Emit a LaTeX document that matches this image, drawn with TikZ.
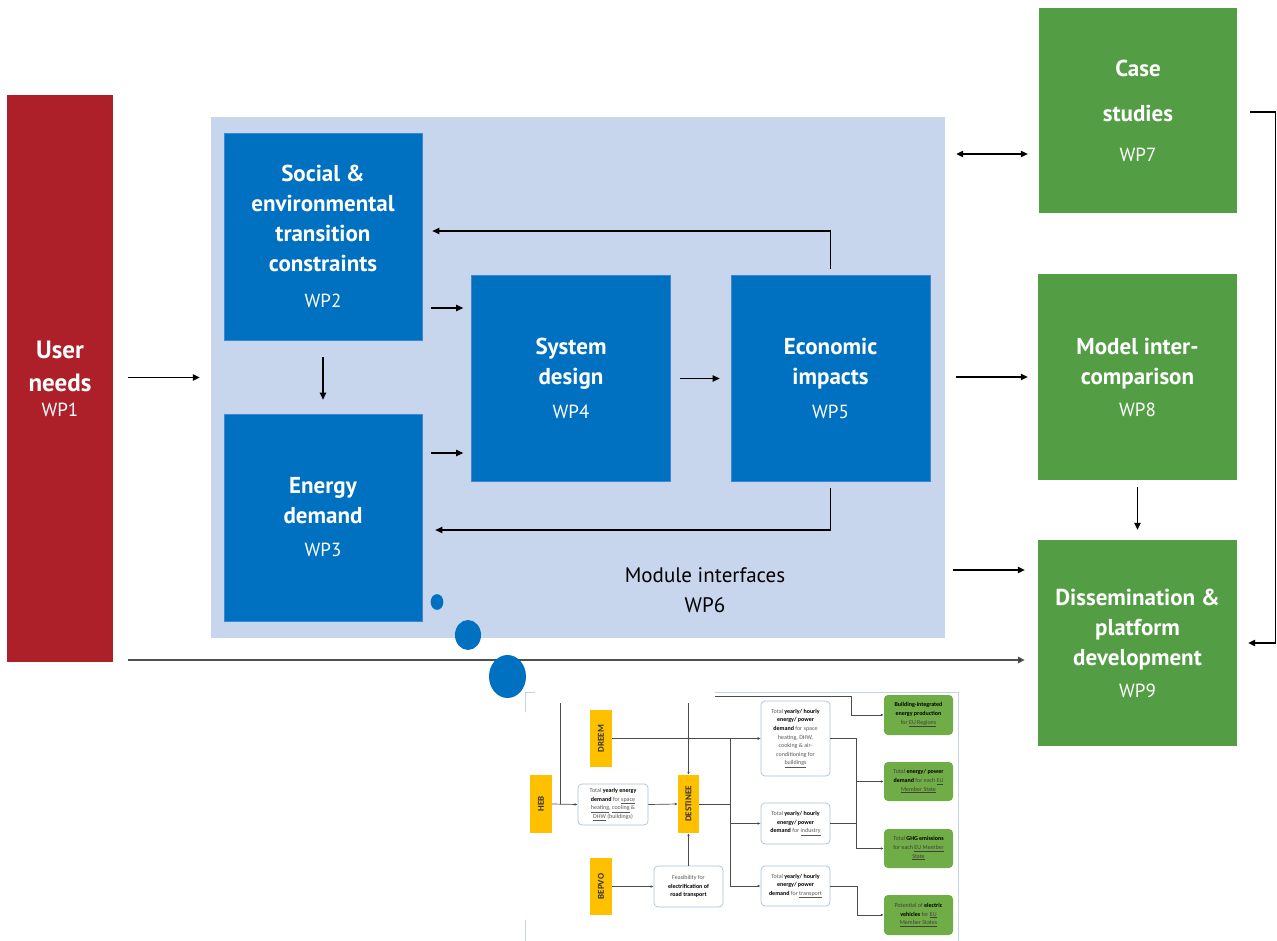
\documentclass[tikz,border=0pt]{standalone}
\usepackage{fontspec}
\setmainfont{PT Sans}
\newfontfamily\calib{Carlito}
\usepackage{graphicx}
\usetikzlibrary{arrows.meta,shapes.geometric,calc}
\definecolor{wpred}{HTML}{AD2029}
\definecolor{wpblue}{HTML}{0070C0}
\definecolor{wpedge}{HTML}{3F86D4}
\definecolor{bgblue}{HTML}{C7D5ED}
\definecolor{wpgreen}{HTML}{539D45}
\definecolor{iyellow}{HTML}{FFC000}
\definecolor{igreen}{HTML}{70AD47}
\definecolor{iedge}{HTML}{A8C0E0}
\definecolor{linegray}{HTML}{505050}
\newcommand\wptitle{\fontsize{23}{30}\selectfont\bfseries}
\newcommand\wpnum{\mdseries\fontsize{19}{22}\selectfont}
\newcommand\bk[1]{\textbf{\color{black}#1}}
\begin{document}
\begin{tikzpicture}[x=1pt,y=-1pt,
  arr/.style={-{Triangle[length=7pt,width=6.5pt]},line width=1.1pt,draw=black},
  wpbox/.style={fill=wpblue,draw=wpedge,line width=0.8pt,text=white,inner sep=0pt,
    align=center,font=\wptitle,minimum width=198pt,minimum height=206pt},
  grbox/.style={fill=wpgreen,text=white,inner sep=0pt,align=center,font=\wptitle,
    minimum width=198pt,minimum height=206pt},
  dot/.style={ellipse,fill=wpblue,inner sep=0pt},
  ybox/.style={fill=iyellow,inner sep=0pt,minimum width=22pt,minimum height=58pt,
    font=\calib\bfseries\fontsize{9}{10}\selectfont,text=black!80},
  wbox/.style={draw=iedge,line width=0.7pt,fill=white,rounded corners=4pt,inner sep=0pt,
    minimum width=69pt,minimum height=41pt,align=center,
    font=\calib\fontsize{6}{8.6}\selectfont,text=black!65},
  gbox/.style={fill=igreen,rounded corners=4pt,inner sep=0pt,
    minimum width=69pt,minimum height=40pt,align=center,
    font=\calib\fontsize{6}{8.6}\selectfont,text=black!75},
  iarr/.style={-{Latex[length=3pt,width=2.6pt]},line width=0.7pt,draw=black!70},
  iline/.style={line width=0.7pt,draw=black!70},
  iborder/.style={line width=0.8pt,draw=iedge!70}]
\useasboundingbox (0,0) rectangle (1277,941);

% background and main blocks
\node[fill=bgblue,inner sep=0pt,minimum width=734pt,minimum height=521pt] (bg) at (578,377.5) {};
\node[fill=wpred,text=white,inner sep=0pt,minimum width=106pt,minimum height=567pt,align=center,
  font=\fontsize{25}{33}\selectfont\bfseries] (un) at (60,378.5) {User\\needs\\[-8pt]{\wpnum WP1}};
\node[wpbox,minimum height=207pt] (wp2) at (323,236.5) {Social \&\\environmental\\transition\\constraints\\[6pt]{\wpnum WP2}};
\node[wpbox,minimum height=207pt] (wp3) at (323,517.5) {Energy\\demand\\[3pt]{\wpnum WP3}};
\node[wpbox,minimum width=199pt] (wp4) at (571,378.5) {System\\design\\[4pt]{\wpnum WP4}};
\node[wpbox,minimum width=199pt] (wp5) at (830.5,378.5) {Economic\\impacts\\[4pt]{\wpnum WP5}};
\node[align=center,inner sep=0pt,font=\fontsize{21}{30}\selectfont] (mi) at (705,590) {Module interfaces\\WP6};
\node[grbox,minimum height=205pt] (wp7) at (1138,110.5) {Case\\[15pt]studies\\[10pt]{\wpnum WP7}};
\node[grbox,minimum width=199pt] (wp8) at (1137.5,377) {Model inter-\\comparison\\[2pt]{\wpnum WP8}};
\node[grbox,minimum width=199pt] (wp9) at (1137.5,643) {Dissemination \&\\platform\\development\\[2pt]{\wpnum WP9}};

% main connectors
\draw[arr] ([shift={(15pt,1pt)}]un.east) -- ([xshift=-11pt]bg.west);
\draw[arr] ([yshift=-17pt]wp2.south) -- ([yshift=14pt]wp3.north);
\draw[arr] ([shift={(9pt,-71.5pt)}]wp2.east) -- ([shift={(-8pt,70.5pt)}]wp4.west);
\draw[arr] ([shift={(9pt,64.5pt)}]wp3.east) -- ([shift={(-8pt,-74.5pt)}]wp4.west);
\draw[arr] ([xshift=9pt]wp4.east) -- ([xshift=-11pt]wp5.west);
\draw[arr] ([yshift=6pt]wp5.north) |- ([shift={(10pt,5.5pt)}]wp2.east);
\draw[arr] ([yshift=-6pt]wp5.south) |- ([shift={(13pt,-12.5pt)}]wp3.east);
\draw[arr,{Triangle[length=7pt,width=6.5pt]}-{Triangle[length=7pt,width=6.5pt]}]
  ([shift={(11pt,223.5pt)}]bg.east) -- ([shift={(-11pt,-43.5pt)}]wp7.west);
\draw[arr] ([shift={(11pt,0.5pt)}]bg.east) -- ([xshift=-10pt]wp8.west);
\draw[arr] ([shift={(8pt,-192.5pt)}]bg.east) -- ([shift={(-13pt,73pt)}]wp9.west);
\draw[arr] ([yshift=-7pt]wp8.south) -- ([yshift=10pt]wp9.north);
\draw[arr] ([shift={(13pt,-1.5pt)}]wp7.east) -- ++(25pt,0pt) |- ([xshift=11pt]wp9.east);
\draw[line width=1.6pt,draw=linegray,-{Triangle[length=7pt,width=6.5pt,fill=black]}]
  ([shift={(15pt,-281.5pt)}]un.east) -- ([shift={(-13pt,-17pt)}]wp9.west);

% inset frame
\draw[iborder] (535,692) -- (525,692) -- (525,712);
\draw[iborder] (715,692) -- (958,692) -- (958,941);
\draw[iborder] (525,920) -- (525,941);

% inset nodes
\node[ybox] (heb) at (541,804) {\rotatebox{90}{HEB}};
\node[ybox,minimum height=57pt] (dreem) at (601,738.5) {\rotatebox{90}{DREEM}};
\node[ybox,minimum height=57pt] (bepvo) at (601,886.5) {\rotatebox{90}{BEPVO}};
\node[ybox,minimum width=21pt] (dest) at (688.5,804) {\rotatebox{90}{DESTINEE}};
\node[wbox,minimum width=70pt] (b1) at (613,804.5) {Total \bk{yearly energy}\\\bk{demand} for \underline{space}\\\underline{heating}, \underline{cooling} \&\\\underline{DHW} (buildings)};
\node[wbox] (feas) at (688.5,886.5) {Feasibility for\\\bk{electrification of}\\\bk{road transport}};
\node[wbox,minimum height=75pt] (b2) at (795.5,738.5) {Total \bk{yearly/ hourly}\\\bk{energy/ power}\\\bk{demand} for space\\heating, DHW,\\cooking \& air-\\conditioning for\\\underline{buildings}};
\node[wbox] (b3) at (795.5,823.5) {Total \bk{yearly/ hourly}\\\bk{energy/ power}\\\bk{demand} for \underline{industry}};
\node[wbox,minimum height=40pt] (b4) at (795.5,886) {Total \bk{yearly/ hourly}\\\bk{energy/ power}\\\bk{demand} for \underline{transport}};
\node[gbox] (g1) at (918.5,715) {\bk{Building-integrated}\\\bk{energy production}\\for \underline{EU Regions}};
\node[gbox,minimum height=39pt] (g2) at (918.5,781.5) {Total \bk{energy/ power}\\\bk{demand} for each \underline{EU}\\\underline{Member State}};
\node[gbox,minimum height=39pt] (g3) at (918.5,848.5) {Total \bk{GHG emissions}\\for each \underline{EU Member}\\\underline{State}};
\node[gbox] (g4) at (918.5,915) {Potential of \bk{electric}\\\bk{vehicles} for \underline{EU}\\\underline{Member States}};

% inset connectors
\coordinate (tl) at (560,703);
\coordinate (tm) at (688.5,703);
\coordinate (tt) at (715,696);
\draw[iline] (tl) -- (tl |- heb.east);
\draw[iarr] (heb.east) -- (b1.west);
\draw[iarr] (b1.east) -- (dest.west);
\draw[iarr] (tm) -- (dest.north);
\draw[iarr] (dreem.east) -- (b2.west);
\fill[black!70] (dest.north |- dreem.east) circle (1.3pt);
\draw[iarr] (bepvo.east) -- (feas.west);
\draw[iarr] (feas.north) -- (dest.south);
\draw[iline] (dest.east) -- ++(31pt,0pt) coordinate (j);
\draw[iarr] (j) |- (b2.west);
\draw[iarr] (j) |- (b3.west);
\draw[iarr] (j) |- (b4.west);
\draw[iarr] (tt) -| ([xshift=-32pt]g1.west) -- (g1.west);
\draw[iarr] (b2.east) -| ([xshift=-27pt]g3.west) -- (g3.west);
\draw[iarr] ([xshift=-27pt]g2.west) -- (g2.west);
\draw[iline] (b3.east) -- ++(27pt,0pt);
\draw[iarr] (b4.east) -| ([xshift=-26pt]g4.west) -- (g4.west);

% bubbles
\node[dot,minimum width=12.7pt,minimum height=15.7pt] (c1) at (437,602) {};
\node[dot,minimum width=26pt,minimum height=30pt] (c2) at (468,635) {};
\node[dot,minimum width=37pt,minimum height=43pt] (c3) at (507.5,676.5) {};
\end{tikzpicture}
\end{document}
